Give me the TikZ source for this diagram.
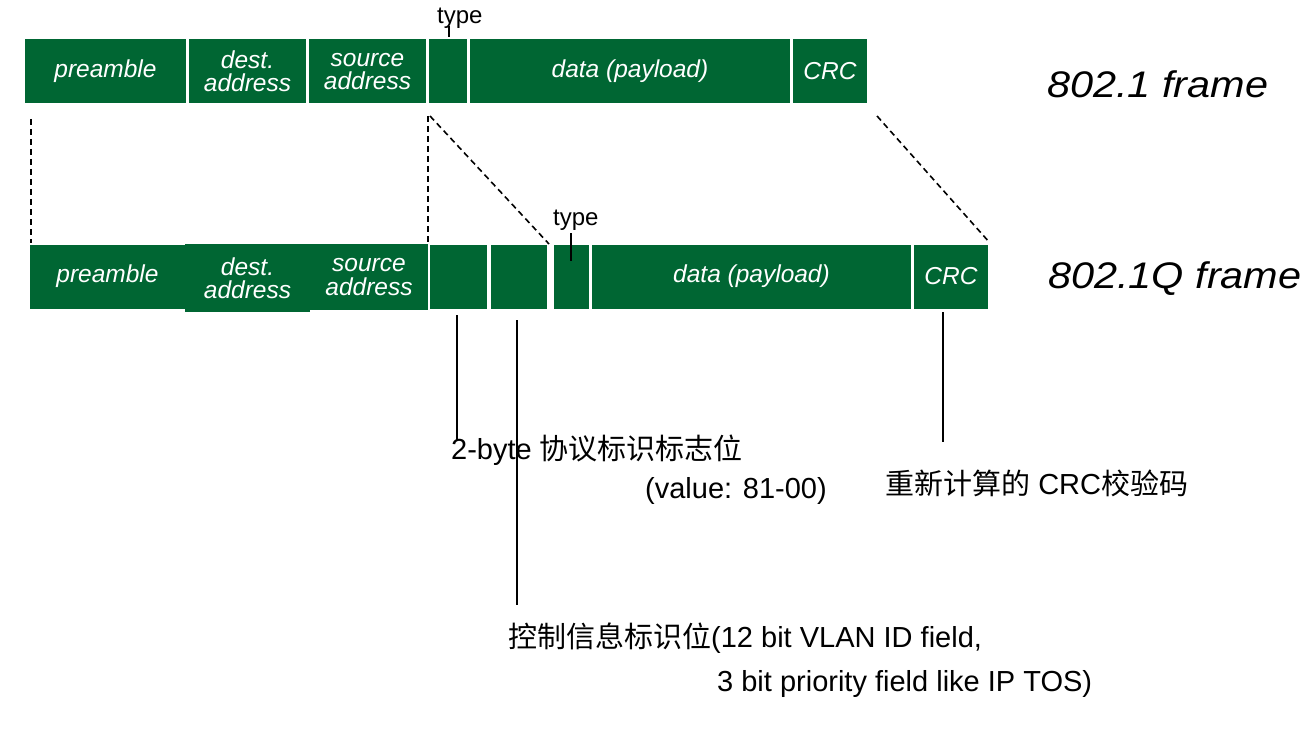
\documentclass[tikz,border=0pt]{standalone}
\usepackage{fontspec}
\setmainfont{Liberation Sans}
\newfontfamily\cjk{Noto Sans CJK SC}
\newfontfamily\framefont[FakeStretch=1.12]{Liberation Sans}
\definecolor{fgreen}{RGB}{0,102,51}
\tikzset{
  fld/.style={fill=fgreen, draw=none, inner sep=0pt, text=white,
    font=\fontsize{24.5}{23.5}\selectfont\itshape, align=center},
  dashline/.style={dash pattern=on 6pt off 4pt, line width=1.6pt},
  tickline/.style={line width=2pt},
  lbl/.style={anchor=base west, inner sep=0pt, font=\fontsize{29}{35}\selectfont},
  typelbl/.style={anchor=base west, inner sep=0pt, font=\fontsize{24}{28}\selectfont},
  framelbl/.style={anchor=base west, inner sep=0pt, font=\framefont\itshape\fontsize{37}{40}\selectfont},
}
\begin{document}
\begin{tikzpicture}[x=1pt,y=-1pt]
\useasboundingbox (0,0) rectangle (1308,730);
% top frame
\node[fld, minimum width=161, minimum height=64] (pre1) at (105.5,71.5) {preamble};
\node[fld, minimum width=117, minimum height=64] (dst1) at (247.5,71.5) {dest.\\address};
\node[fld, minimum width=117, minimum height=64] (src1) at (367.5,71.5) {source\\address};
\node[fld, minimum width=38, minimum height=64] (typ1) at (448,71.5) {};
\node[fld, minimum width=320, minimum height=64] (dat1) at (630,71.5) {data (payload)};
\node[fld, minimum width=74, minimum height=64] (crc1) at (830,71.5) {CRC};
% bottom frame
\node[fld, minimum width=155, minimum height=64] (pre2) at (107.5,276.5) {preamble};
\node[fld, minimum width=125, minimum height=68] (dst2) at (247.5,278) {dest.\\address};
\node[fld, minimum width=118, minimum height=66] (src2) at (369,277) {source\\address};
\node[fld, minimum width=57, minimum height=64] (tg1) at (458.5,276.5) {};
\node[fld, minimum width=56, minimum height=64] (tg2) at (519,276.5) {};
\node[fld, minimum width=35, minimum height=64] (typ2) at (571.5,276.5) {};
\node[fld, minimum width=319, minimum height=64] (dat2) at (751.5,276.5) {data (payload)};
\node[fld, minimum width=74, minimum height=64] (crc2) at (951,276.5) {CRC};
% type labels
\node[typelbl] (tlbl1) at (437,24) {type};
\node[typelbl] (tlbl2) at (553,225) {type};
\coordinate (t1a) at (449,26);
\coordinate (t1b) at (449,37);
\coordinate (t2a) at (571,233);
\coordinate (t2b) at (571,261);
\draw[tickline] (t1a) -- (t1b);
\draw[tickline] (t2a) -- (t2b);
% frame labels
\node[framelbl] (f1) at (1047,98) {802.1 frame};
\node[framelbl] (f2) at (1048,288) {802.1Q frame};
% dashed mapping lines
\coordinate (d1) at (31,119);
\coordinate (d2) at (428,116);
\coordinate (d3) at (430,116);
\coordinate (d4) at (877,116);
\coordinate (e1) at (31,243);
\coordinate (e2) at (428,243);
\coordinate (e3) at (549,244);
\coordinate (e4) at (990,243);
\draw[dashline] (d1) -- (e1);
\draw[dashline] (d2) -- (e2);
\draw[dashline] (d3) -- (e3);
\draw[dashline] (d4) -- (e4);
% annotation texts
\node[lbl] (a1) at (451,459) {2-byte {\cjk 协议标识标志位}};
\node[lbl] (a2) at (645,498) {(value: 81-00)};
\node[lbl] (a3) at (885,494) {{\cjk 重新计算的} CRC{\cjk 校验码}};
\node[lbl] (a4) at (508,647) {{\cjk 控制信息标识位}(12 bit VLAN ID field,};
\node[lbl] (a5) at (717,691) {3 bit priority field like IP TOS)};
% pointer lines
\coordinate (p1a) at (457,315);
\coordinate (p1b) at (457,440);
\coordinate (p2a) at (517,320);
\coordinate (p2b) at (517,605);
\coordinate (p3a) at (943,312);
\coordinate (p3b) at (943,442);
\draw[tickline] (p1a) -- (p1b);
\draw[tickline] (p2a) -- (p2b);
\draw[tickline] (p3a) -- (p3b);
\end{tikzpicture}
\end{document}
